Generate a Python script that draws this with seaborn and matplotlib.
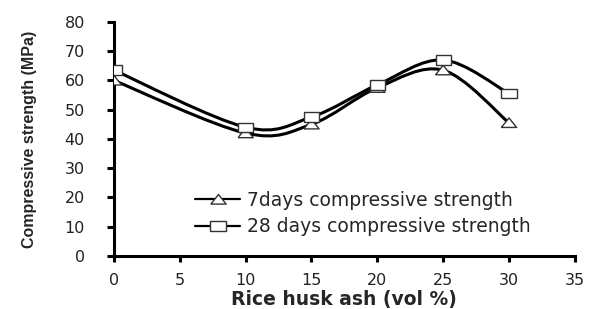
import matplotlib
matplotlib.use("Agg")
import matplotlib.pyplot as plt
import seaborn as sns
import numpy as np
import pandas as pd
from matplotlib.path import Path
from matplotlib.patches import PathPatch
from matplotlib.lines import Line2D

# data
rha = [0, 10, 15, 20, 25, 30]
strength_7d = [60, 42, 45, 57.5, 63.5, 45.5]
strength_28d = [63.5, 44, 47.5, 58.5, 67, 55.5]
labels = ["7days compressive strength", "28 days compressive strength"]

tri = [(-1, -0.6), (1, -0.6), (0, 0.65), (-1, -0.6)]
rect = [(-1, -0.62), (1, -0.62), (1, 0.62), (-1, 0.62), (-1, -0.62)]


def smooth_path(xs, ys, k=1 / 6):
    # Excel style smoothed line: Catmull-Rom segments as cubic beziers
    p = np.column_stack([xs, ys]).astype(float)
    n = len(p)
    verts = [p[0]]
    codes = [Path.MOVETO]
    for i in range(n - 1):
        p0 = p[i - 1] if i > 0 else p[i]
        p3 = p[i + 2] if i + 2 < n else p[i + 1]
        c1 = p[i] + (p[i + 1] - p0) * k
        c2 = p[i + 1] - (p3 - p[i]) * k
        verts += [c1, c2, p[i + 1]]
        codes += [Path.CURVE4] * 3
    return Path(verts, codes)


sns.set_style("white")
plt.rcParams["font.family"] = ["DejaVu Sans"]

fig = plt.figure(figsize=(5.89, 3.09), dpi=100)
ax = fig.add_axes([0.1935, 0.1715, 0.7825, 0.7575])

df = pd.DataFrame({
    "rha": rha * 2,
    "strength": strength_7d + strength_28d,
    "series": [labels[0]] * len(rha) + [labels[1]] * len(rha),
})

for vals in (strength_7d, strength_28d):
    ax.add_patch(PathPatch(smooth_path(rha, vals), facecolor="none",
                           edgecolor="black", lw=2.2, zorder=2))

sns.scatterplot(data=df, x="rha", y="strength", style="series",
                markers=[tri, rect], s=120, color="white",
                edgecolor="#333333", linewidth=1.0, ax=ax, zorder=3,
                legend=False)

ax.set_xlim(0, 35)
ax.set_ylim(0, 80)
ax.set_xticks(range(0, 36, 5))
ax.set_yticks(range(0, 81, 10))
for s in ["top", "right"]:
    ax.spines[s].set_visible(False)
for s in ["left", "bottom"]:
    ax.spines[s].set_linewidth(2.2)
    ax.spines[s].set_color("black")
ax.tick_params(axis="y", direction="out", length=5, width=2.2, labelsize=11.5,
               colors="black", labelcolor="#222222", pad=16, left=True)
ax.tick_params(axis="x", direction="out", length=4, width=2.2, labelsize=11.5,
               colors="black", labelcolor="#222222", pad=8, bottom=True)
ax.set_xlabel("Rice husk ash (vol %)", fontsize=13.5, fontweight="bold",
              labelpad=2)
ax.set_ylabel("Compressive strength (MPa)", fontsize=11.5,
              family=["Liberation Sans"], fontweight="bold")
ax.yaxis.set_label_coords(-0.168, 0.5)

handles = [
    Line2D([], [], color="black", lw=1.6, marker=tri, markersize=11,
           markerfacecolor="white", markeredgecolor="#333333", markeredgewidth=1.0),
    Line2D([], [], color="black", lw=1.6, marker=rect, markersize=11,
           markerfacecolor="white", markeredgecolor="#333333", markeredgewidth=1.0),
]
ax.legend(handles, labels, loc="lower left", bbox_to_anchor=(0.176, 0.085),
          frameon=False, fontsize=13.5, handlelength=2.4, handletextpad=0.35,
          labelspacing=0.38, borderpad=0, borderaxespad=0)

fig.savefig("out.png", dpi=100)
